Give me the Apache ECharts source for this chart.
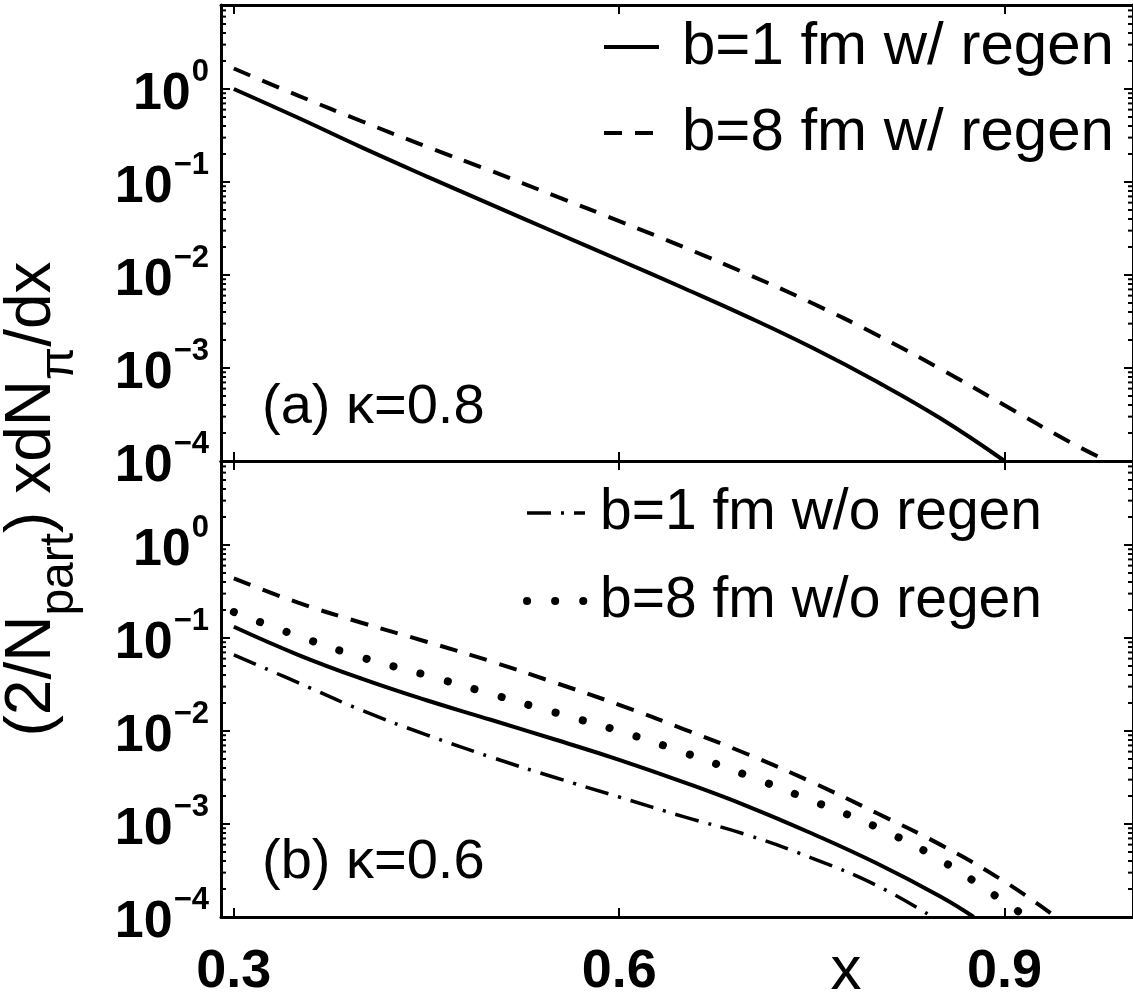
<!DOCTYPE html>
<html><head><meta charset="utf-8">
<script src="https://cdn.jsdelivr.net/npm/echarts@6/dist/echarts.min.js"></script>
<style>html,body{margin:0;padding:0;background:#fff}#c{width:1133px;height:999px}</style>
</head><body><div id="c"></div>
<script>
// ---- data ----
const xTicks = [0.3, 0.6, 0.9];
const minorTickVals = [2e-4,3e-4,4e-4,5e-4,6e-4,7e-4,8e-4,9e-4,
  2e-3,3e-3,4e-3,5e-3,6e-3,7e-3,8e-3,9e-3,
  2e-2,3e-2,4e-2,5e-2,6e-2,7e-2,8e-2,9e-2,
  0.2,0.3,0.4,0.5,0.6,0.7,0.8,0.9, 2,3,4,5,6,7];

// panel (a) kappa = 0.8
const xA_b1 = [0.30,0.35,0.40,0.45,0.50,0.55,0.60,0.65,0.70,0.75,0.80,0.85,0.90];
const yA_b1 = [1.0,0.49,0.234,0.115,0.0575,0.0288,0.0145,0.00724,0.00355,0.00166,0.00072,0.000288,0.0001];
const xA_b8 = [0.30,0.35,0.40,0.45,0.50,0.55,0.60,0.65,0.70,0.75,0.80,0.85,0.90,0.95,0.98];
const yA_b8 = [1.66,0.85,0.447,0.24,0.132,0.0708,0.038,0.02,0.0102,0.005,0.00229,0.000977,0.000398,0.000162,0.0001];

// panel (b) kappa = 0.6
const xB_b1 = [0.30,0.35,0.40,0.45,0.50,0.55,0.60,0.65,0.70,0.75,0.80,0.85,0.876];
const yB_b1 = [0.132,0.066,0.0363,0.0214,0.0132,0.0081,0.0049,0.00282,0.00155,0.00079,0.00038,0.000166,0.0001];
const xB_b8 = [0.30,0.35,0.40,0.45,0.50,0.55,0.60,0.65,0.70,0.75,0.80,0.85,0.90,0.94];
const yB_b8 = [0.437,0.24,0.145,0.0912,0.0562,0.0331,0.0191,0.0105,0.00562,0.00282,0.00132,0.0006,0.00024,0.0001];
const xB_b1no = [0.30,0.35,0.40,0.45,0.50,0.55,0.60,0.65,0.70,0.75,0.80,0.844];
const yB_b1no = [0.066,0.0331,0.0166,0.0091,0.00525,0.00316,0.00195,0.0012,0.00076,0.00043,0.00022,0.0001];
const xB_b8no = [0.30,0.35,0.40,0.45,0.50,0.55,0.60,0.65,0.70,0.75,0.80,0.85,0.90,0.917];
const yB_b8no = [0.19,0.105,0.0617,0.0398,0.0251,0.0158,0.01,0.00589,0.00331,0.00178,0.00093,0.00041,0.000145,0.0001];

const names = ['b=1 fm w/ regen','b=8 fm w/ regen','b=1 fm w/o regen','b=8 fm w/o regen'];

// ---- chart ----
const FONT = 'Liberation Sans, Arial, Helvetica, sans-serif';
const X_MIN = 0.29, X_MAX = 1.0, Y_MIN = 1e-4, Y_MAX = 8;
const zip = (xs, ys) => xs.map((x, i) => [x, ys[i]]);

const SOLID = {color:'#000', width:4, type:'solid'};
const DASH = {color:'#000', width:4, type:[18,13]};
const DASHDOT = {color:'#000', width:3.5, type:[24,10,3,10]};
const DOT = {color:'#000', width:8, type:[0.1,28], cap:'round'};

function yLabel(v){
  const e = Math.log10(v);
  const r = Math.round(e);
  if (Math.abs(e - r) > 0.01) return '';
  return '{b|10}{s|' + (r < 0 ? '\u2212' + (-r) : r) + '}';
}
const yRich = {
  b:{fontSize:52, fontWeight:'bold', fontFamily:FONT, color:'#000', lineHeight:64, verticalAlign:'bottom'},
  s:{fontSize:31, fontWeight:'bold', fontFamily:FONT, color:'#000', lineHeight:64, verticalAlign:'top', padding:[0,0,0,1]}
};

function xAxisDef(gridIndex, position, showLabel){
  return {
    type:'value', gridIndex, position, min:X_MIN, max:X_MAX,
    splitLine:{show:false},
    axisLine:{show:true, onZero:false, lineStyle:{color:'#000', width:3}},
    axisTick:{show:true, inside:true, length:9, customValues:xTicks, lineStyle:{color:'#000', width:2}},
    axisLabel:{show:showLabel, customValues:xTicks, margin:28, color:'#000', fontSize:54, fontWeight:'bold', fontFamily:FONT,
      formatter:(v)=>v.toFixed(1)}
  };
}
function yAxisDef(gridIndex, position, showLabel){
  return {
    type:'log', logBase:10, gridIndex, position, min:Y_MIN, max:Y_MAX,
    splitLine:{show:false},
    axisLine:{show:true, onZero:false, lineStyle:{color:'#000', width:3}},
    axisTick:{show:true, inside:true, length:9, lineStyle:{color:'#000', width:2}},
    minorTick:{show:false},
    axisLabel:{show:showLabel, showMaxLabel:false, margin:12, formatter:yLabel, rich:yRich}
  };
}
function minorSeries(xi, yi){
  return {
    type:'custom', xAxisIndex:xi, yAxisIndex:yi, silent:true, z:5,
    data: minorTickVals.map(v => [X_MIN, v]),
    renderItem:(params, api)=>{
      const v = api.value(1);
      const pl = api.coord([X_MIN, v]);
      const pr = api.coord([X_MAX, v]);
      return {type:'group', children:[
        {type:'line', shape:{x1:pl[0], y1:pl[1], x2:pl[0]+5, y2:pl[1]}, style:{stroke:'#000', lineWidth:2}},
        {type:'line', shape:{x1:pr[0]-5, y1:pr[1], x2:pr[0], y2:pr[1]}, style:{stroke:'#000', lineWidth:2}}
      ]};
    }
  };
}
function lineSeries(name, xi, yi, data, style){
  return {type:'line', name, xAxisIndex:xi, yAxisIndex:yi, data, showSymbol:false, symbol:'none',
    smooth:0.45, clip:true, lineStyle:style, itemStyle:{color:'#000'}, z:3, animation:false};
}

const chart = echarts.init(document.getElementById('c'), null, {renderer:'canvas'});
chart.setOption({
  animation:false,
  backgroundColor:'#fff',
  grid:[
    {left:221, top:5, width:913, height:456, containLabel:false},
    {left:221, top:461, width:913, height:457, containLabel:false}
  ],
  xAxis:[xAxisDef(0,'bottom',false), xAxisDef(0,'top',false), xAxisDef(1,'bottom',true), xAxisDef(1,'top',false)],
  yAxis:[yAxisDef(0,'left',true), yAxisDef(0,'right',false), yAxisDef(1,'left',true), yAxisDef(1,'right',false)],
  legend:[
    {left:597, top:10, orient:'vertical', itemWidth:55, itemHeight:14, itemGap:22,
     textStyle:{fontSize:60, fontFamily:FONT, color:'#000', lineHeight:64, padding:[0,0,0,18]},
     itemStyle:{opacity:0},
     data:[{name:names[0], lineStyle:SOLID},{name:names[1], lineStyle:DASH}], selectedMode:false},
    {left:518, top:476, orient:'vertical', itemWidth:58, itemHeight:14, itemGap:24,
     textStyle:{fontSize:57, fontFamily:FONT, color:'#000', lineHeight:64, padding:[0,0,0,10]},
     itemStyle:{opacity:0},
     data:[{name:names[2], lineStyle:DASHDOT},{name:names[3], lineStyle:DOT}], selectedMode:false}
  ],
  graphic:[
    {type:'text', left:262, top:380, style:{text:'(a) \u03ba=0.8', font:'56px ' + FONT, fill:'#000'}},
    {type:'text', left:262, top:835, style:{text:'(b) \u03ba=0.6', font:'56px ' + FONT, fill:'#000'}},
    {type:'text', x:846, y:972, style:{text:'x', font:'62px ' + FONT, fill:'#000', align:'center', verticalAlign:'middle'}},
    {type:'text', x:42, y:499, rotation:Math.PI/2,
     style:{text:'{m|(2/N}{sub|part}{m|) xdN}{sub|\u03c0}{m|/dx}', align:'center', verticalAlign:'middle',
       rich:{
         m:{fontSize:64, fontFamily:FONT, fill:'#000', lineHeight:84, verticalAlign:'top'},
         sub:{fontSize:48, fontFamily:FONT, fill:'#000', lineHeight:84, verticalAlign:'bottom'}
       }}}
  ],
  series:[
    lineSeries(names[0], 0, 0, zip(xA_b1, yA_b1), SOLID),
    lineSeries(names[1], 0, 0, zip(xA_b8, yA_b8), DASH),
    lineSeries(names[0], 2, 2, zip(xB_b1, yB_b1), SOLID),
    lineSeries(names[1], 2, 2, zip(xB_b8, yB_b8), DASH),
    lineSeries(names[2], 2, 2, zip(xB_b1no, yB_b1no), DASHDOT),
    lineSeries(names[3], 2, 2, zip(xB_b8no, yB_b8no), DOT),
    minorSeries(0, 0),
    minorSeries(2, 2)
  ]
});
</script>
</body></html>
